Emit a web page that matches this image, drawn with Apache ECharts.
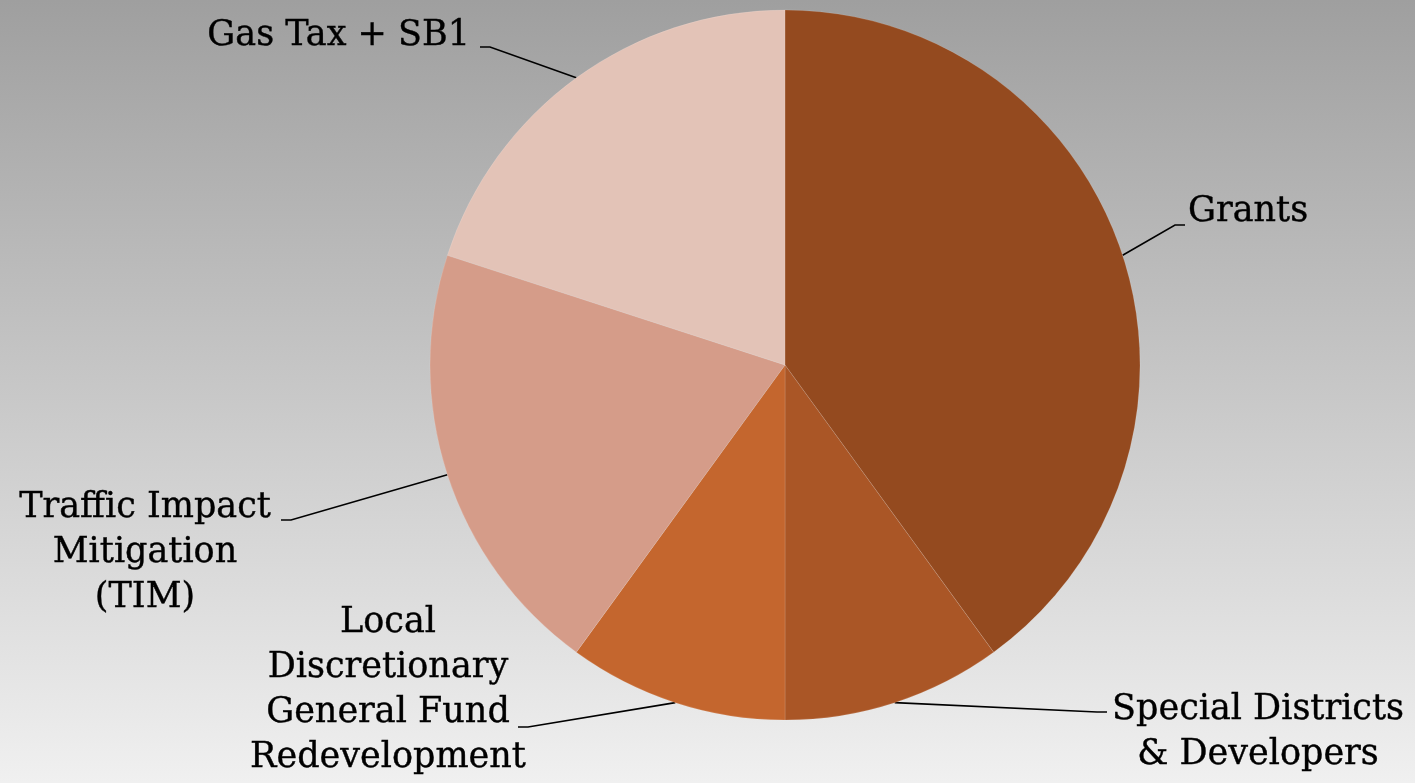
<!DOCTYPE html>
<html>
<head>
<meta charset="utf-8">
<title>Funding sources</title>
<script src="https://cdn.jsdelivr.net/npm/echarts@6/dist/echarts.min.js"></script>
<style>
  html, body { margin: 0; padding: 0; }
  #main { width: 1415px; height: 783px; }
</style>
</head>
<body>
<div id="main"></div>
<script>
// slices, clockwise from 12 o'clock
const categories = [
  'Grants',
  'Special Districts\n& Developers',
  'Local\nDiscretionary\nGeneral Fund\nRedevelopment',
  'Traffic Impact\nMitigation\n(TIM)',
  'Gas Tax + SB1'
]
const shares = [40, 10, 10, 20, 20]
const sliceColors = ['#944A1F', '#AA5626', '#C4662E', '#D59C89', '#E3C3B7']

// where each label sits and where its leader line ends (side = direction to the pie)
const labelSpots = [
  { x: 1188, y: 212, align: 'left', ex: 1185, ey: 225, side: -1 },
  { x: 1258, y: 732, align: 'center', ex: 1107, ey: 712, side: -1 },
  { x: 388, y: 690, align: 'center', ex: 518, ey: 727, side: 1 },
  { x: 145, y: 553, align: 'center', ex: 281, ey: 520, side: 1 },
  { x: 470, y: 36, align: 'right', ex: 480, ey: 47, side: 1 }
]

const chart = echarts.init(document.getElementById('main'))

chart.setOption({
  animation: false,
  backgroundColor: {
    type: 'linear', x: 0, y: 0, x2: 0, y2: 1,
    colorStops: [
      { offset: 0, color: '#9F9F9F' },
      { offset: 1, color: '#F0F0F0' }
    ]
  },
  series: [
    {
      type: 'pie',
      center: [785, 365],
      radius: 355,
      startAngle: 90,
      clockwise: true,
      data: categories.map((name, i) => ({
        name: name,
        value: shares[i],
        itemStyle: { color: sliceColors[i] }
      })),
      itemStyle: {
        borderColor: 'rgba(255,255,255,0.25)',
        borderWidth: 0.5
      },
      label: {
        show: true,
        position: 'outside',
        formatter: '{b}',
        fontFamily: 'DejaVu Serif',
        fontSize: 35,
        lineHeight: 45,
        color: '#000',
        // 稍微加粗，接近原图字重
        textBorderColor: '#000',
        textBorderWidth: 0.4
      },
      labelLine: {
        show: true,
        length: 20,
        length2: 10,
        lineStyle: { color: '#000', width: 1.6 }
      },
      // 标签位置按参考图手动摆放，引线从扇区中点连到标签
      labelLayout: function (params) {
        const spot = labelSpots[params.dataIndex]
        const start = params.labelLinePoints[0]
        return {
          x: spot.x,
          y: spot.y,
          align: spot.align,
          verticalAlign: 'middle',
          labelLinePoints: [
            start,
            [spot.ex + spot.side * 10, spot.ey],
            [spot.ex, spot.ey]
          ]
        }
      },
      emphasis: { disabled: true }
    }
  ]
})
</script>
</body>
</html>
